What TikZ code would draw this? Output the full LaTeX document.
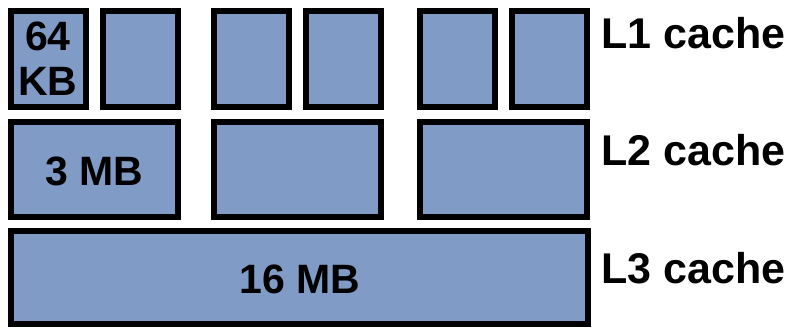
\documentclass[tikz,border=0pt]{standalone}
\usepackage{fontspec}
\setmainfont{Liberation Sans}
\definecolor{cachefill}{RGB}{127,155,198}
\begin{document}
\begin{tikzpicture}[x=1pt,y=-1pt,
  cbox/.style={draw=black,fill=cachefill,line width=6pt,inner sep=0pt,outer sep=0pt},
  l1box/.style={cbox,minimum width=75pt,minimum height=96pt},
  l2box/.style={cbox,minimum width=167pt,minimum height=95pt},
  l3box/.style={cbox,minimum width=577pt,minimum height=93pt},
  big/.style={font=\fontsize{41}{45}\selectfont\bfseries,inner sep=0pt,text=black},
  lab/.style={font=\fontsize{43}{47}\selectfont\bfseries,inner sep=0pt,text=black,anchor=base west}]
\useasboundingbox (0,0) rectangle (786,327);
% L1 row
\node[l1box] (a1) at (48,59) {};
\node[l1box] (a2) at (140.5,59) {};
\node[l1box] (a3) at (251.5,59) {};
\node[l1box] (a4) at (343,59) {};
\node[l1box] (a5) at (457.5,59) {};
\node[l1box] (a6) at (549.5,59) {};
% L2 row
\node[l2box] (b1) at (94.5,169.5) {};
\node[l2box] (b2) at (297,169.5) {};
\node[l2box] (b3) at (503.5,169.5) {};
% L3
\node[l3box] (c1) at (299.5,277.5) {};
% texts
\node[big,align=center] (t64) at (48,58.5) {64\\KB};
\node[big,anchor=base] (t3) at (94.5,185) {3 MB};
\node[big,anchor=base] (t16) at (300,293) {16 MB};
\node[lab] (l1) at (601,48) {L1 cache};
\node[lab] (l2) at (601,165) {L2 cache};
\node[lab] (l3) at (601,283) {L3 cache};
\end{tikzpicture}
\end{document}
